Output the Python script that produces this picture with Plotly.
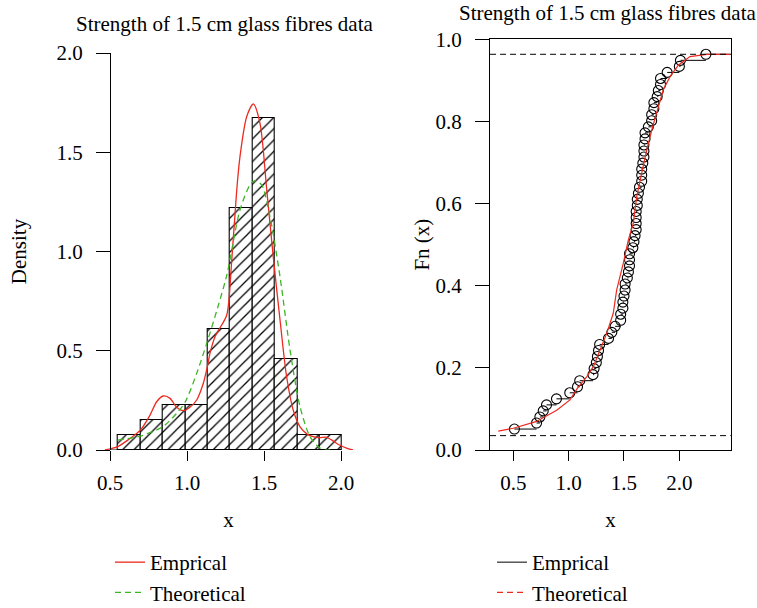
import plotly.graph_objects as go

# ---------------- data ----------------
# Left panel: histogram of the strength data (density scale)
bin_edges = [0.55, 0.697, 0.842, 0.989, 1.132, 1.279, 1.424, 1.569, 1.716, 1.859, 2.006]
bin_density = [0.076, 0.152, 0.229, 0.229, 0.61, 1.22, 1.675, 0.457, 0.076, 0.076]

# empirical (kernel) density curve
kde_x = [0.467, 0.55, 0.63, 0.697, 0.76, 0.803, 0.846, 0.89, 0.933, 0.976, 1.019,
         1.063, 1.106, 1.132, 1.149, 1.182, 1.21, 1.258, 1.29, 1.322, 1.344, 1.388,
         1.431, 1.474, 1.518, 1.56, 1.604, 1.647, 1.69, 1.734, 1.78, 1.82, 1.86,
         1.907, 1.95, 1.99, 2.04, 2.078]
kde_y = [0.0, 0.017, 0.058, 0.1, 0.176, 0.243, 0.272, 0.26, 0.215, 0.198, 0.215,
         0.252, 0.336, 0.42, 0.487, 0.571, 0.61, 0.68, 0.95, 1.3, 1.478, 1.68,
         1.743, 1.646, 1.31, 0.974, 0.655, 0.369, 0.2, 0.117, 0.08, 0.067, 0.062,
         0.064, 0.045, 0.025, 0.008, 0.0]

# theoretical (fitted) density curve
fit_x = [0.55, 0.697, 0.842, 0.933, 0.989, 1.063, 1.128, 1.2, 1.258, 1.344, 1.409,
         1.442, 1.485, 1.539, 1.604, 1.669, 1.734, 1.799, 1.864, 1.95]
fit_y = [0.05, 0.07, 0.117, 0.185, 0.243, 0.386, 0.537, 0.72, 0.88, 1.209, 1.335,
         1.357, 1.335, 1.175, 0.873, 0.504, 0.218, 0.067, 0.01, 0.0]

# Right panel: sorted strength observations (ECDF points)
strength = [0.51, 0.71, 0.74, 0.77, 0.80, 0.89, 1.01, 1.08, 1.10, 1.22,
            1.23, 1.25, 1.26, 1.27, 1.28, 1.36, 1.39, 1.42, 1.47, 1.47,
            1.49, 1.49, 1.50, 1.51, 1.51, 1.53, 1.54, 1.55, 1.55, 1.55,
            1.58, 1.59, 1.60, 1.61, 1.61, 1.61, 1.61, 1.62, 1.62, 1.63,
            1.64, 1.66, 1.66, 1.66, 1.67, 1.68, 1.68, 1.68, 1.69, 1.69,
            1.72, 1.75, 1.75, 1.77, 1.77, 1.80, 1.81, 1.83, 1.83, 1.89,
            2.00, 2.01, 2.24]
ecdf_low, ecdf_high = 0.051, 0.9635

# theoretical CDF curve
cdf_x = [0.364, 0.5, 0.705, 0.892, 1.012, 1.078, 1.163, 1.223, 1.283, 1.344, 1.403,
         1.434, 1.494, 1.539, 1.584, 1.615, 1.66, 1.705, 1.759, 1.81, 1.855, 1.916,
         1.991, 2.096, 2.247, 2.46]
cdf_y = [0.046, 0.053, 0.069, 0.097, 0.122, 0.150, 0.178, 0.203, 0.243, 0.284, 0.333,
         0.390, 0.455, 0.511, 0.552, 0.617, 0.674, 0.730, 0.787, 0.836, 0.877, 0.909,
         0.937, 0.958, 0.9635, 0.9635]

ref_levels = [0.035, 0.9635]

title_text = "Strength of 1.5 cm glass fibres data"

# ---------------- styling ----------------
FONT = "Liberation Serif"
FS = 21
RED = "#ec2a1f"
GREEN = "#3db524"
W, H = 757, 608

left_xrange = [0.44, 2.10]
right_xrange = [0.29, 2.464]

def px(v):
    return v / W

def py(v):
    return (H - v) / H

centers = [(a + b) / 2 for a, b in zip(bin_edges[:-1], bin_edges[1:])]
widths = [(b - a) for a, b in zip(bin_edges[:-1], bin_edges[1:])]

n = len(strength)
ecdf_y = [ecdf_low + i * (ecdf_high - ecdf_low) / (n - 1) for i in range(n)]
step_x, step_y = [], []
for i in range(n):
    x_end = strength[i + 1] if i + 1 < n else right_xrange[1]
    step_x += [strength[i], x_end, None]
    step_y += [ecdf_y[i], ecdf_y[i], None]

fig = go.Figure()

# left panel
fig.add_trace(go.Bar(
    x=centers, y=bin_density, width=widths, xaxis="x", yaxis="y",
    marker=dict(color="white", line=dict(color="black", width=1.1),
                pattern=dict(shape="/", fgcolor="black", bgcolor="white",
                             fgopacity=1, size=8, solidity=0.16)),
    showlegend=False, hoverinfo="skip"))
fig.add_trace(go.Scatter(
    x=kde_x, y=kde_y, mode="lines", name="Emprical", xaxis="x", yaxis="y",
    line=dict(color=RED, width=1.3, shape="spline", smoothing=0.8), legend="legend"))
fig.add_trace(go.Scatter(
    x=fit_x, y=fit_y, mode="lines", name="Theoretical", xaxis="x", yaxis="y",
    line=dict(color=GREEN, width=1.3, dash="6px,4px", shape="spline", smoothing=0.8),
    legend="legend"))

# right panel
fig.add_trace(go.Scatter(
    x=step_x, y=step_y, mode="lines", name="Emprical", xaxis="x2", yaxis="y2",
    line=dict(color="black", width=1), legend="legend2"))
fig.add_trace(go.Scatter(
    x=strength, y=ecdf_y, mode="markers", xaxis="x2", yaxis="y2",
    marker=dict(symbol="circle-open", size=10, color="black", line=dict(width=1.1)),
    showlegend=False))
fig.add_trace(go.Scatter(
    x=cdf_x, y=cdf_y, mode="lines", xaxis="x2", yaxis="y2",
    line=dict(color=RED, width=1.2), showlegend=False))
fig.add_trace(go.Scatter(
    x=[None], y=[None], mode="lines", name="Theoretical", xaxis="x2", yaxis="y2",
    line=dict(color=RED, width=1.2, dash="6px,4px"), legend="legend2"))

tickfont = dict(family=FONT, size=FS, color="black")
common = dict(showgrid=False, zeroline=False, ticks="outside", tickcolor="black",
              tickwidth=1, tickfont=tickfont, tickformat=".1f", automargin=False)
tfont = dict(family=FONT, size=FS, color="black")

fig.update_layout(
    width=W, height=H, margin=dict(l=0, r=0, t=0, b=0, autoexpand=False),
    paper_bgcolor="white", plot_bgcolor="white",
    font=dict(family=FONT, size=FS, color="black"),
    bargap=0,
    xaxis=dict(domain=[px(100.76), px(356.4)], range=left_xrange, anchor="y",
               tickvals=[0.5, 1.0, 1.5, 2.0], ticklen=10, showline=False,
               ticklabelstandoff=4,
               title=dict(text="x", font=tfont, standoff=18),
               **common),
    yaxis=dict(domain=[py(450), py(53)], range=[0, 2.0], anchor="free",
               position=px(110), tickvals=[0, 0.5, 1.0, 1.5, 2.0], ticklen=14,
               showline=True, linecolor="black", linewidth=1, ticklabelstandoff=9,
               title=dict(text="Density", font=tfont, standoff=23),
               **common),
    xaxis2=dict(domain=[px(490.05), px(730.7)], range=right_xrange, anchor="y2",
                tickvals=[0.5, 1.0, 1.5, 2.0], ticklen=10, showline=True,
                linecolor="black", linewidth=1, mirror=True, ticklabelstandoff=4,
                title=dict(text="x", font=tfont, standoff=18),
                **common),
    yaxis2=dict(domain=[py(450), py(39.3)], range=[0, 1.0], anchor="x2",
                tickvals=[0, 0.2, 0.4, 0.6, 0.8, 1.0], ticklen=14, showline=True,
                linecolor="black", linewidth=1, mirror=True, ticklabelstandoff=9,
                title=dict(text="Fn (x)", font=tfont, standoff=0),
                **common),
    legend=dict(x=px(110), y=py(542), xanchor="left", yanchor="top",
                bgcolor="rgba(0,0,0,0)", font=tfont,
                tracegroupgap=0, itemwidth=30),
    legend2=dict(x=px(492), y=py(542), xanchor="left", yanchor="top",
                 bgcolor="rgba(0,0,0,0)", font=tfont,
                 tracegroupgap=0, itemwidth=30),
    shapes=[
        dict(type="line", xref="x", yref="y", x0=0.5, x1=2.0, y0=0, y1=0,
             line=dict(color="black", width=1)),
    ] + [
        dict(type="line", xref="x2 domain", yref="y2", x0=0, x1=1, y0=lv, y1=lv,
             line=dict(color="black", width=1, dash="6px,4px"))
        for lv in ref_levels
    ],
    annotations=[
        dict(text=title_text, x=px(224.5), y=py(24), xref="paper", yref="paper",
             showarrow=False, xanchor="center", yanchor="middle", font=tfont),
        dict(text=title_text, x=px(607.5), y=py(13), xref="paper", yref="paper",
             showarrow=False, xanchor="center", yanchor="middle", font=tfont),
    ],
)

fig.write_html("out.html")
